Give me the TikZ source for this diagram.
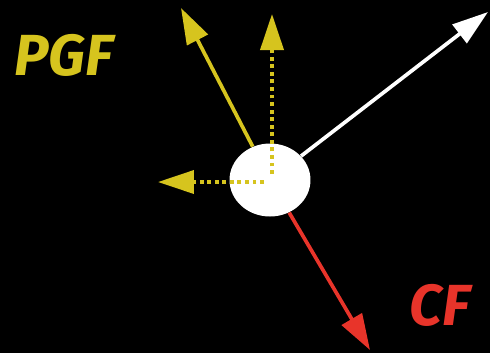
\documentclass[tikz,border=0pt]{standalone}
\usepackage{fontspec}
\setsansfont{Fira Sans}
\usetikzlibrary{arrows.meta,shapes.geometric}
\definecolor{pgfyellow}{RGB}{214,196,30}
\definecolor{cfred}{RGB}{232,52,42}

\begin{document}
\begin{tikzpicture}[x=0.02cm,y=-0.02cm,
  vec/.style={line width=2.1pt,-{Triangle[length=0.72cm,width=0.46cm]}},
  dotvec/.style={vec,dash pattern=on 2.2pt off 2.1pt,shorten <=0.16cm},
  tag/.style={font=\sffamily\bfseries\itshape\fontsize{33}{33}\selectfont,anchor=base west,inner sep=0pt}]
  \fill[black] (0,0) rectangle (490,353);
  \node[ellipse,fill=white,minimum width=1.62cm,minimum height=1.46cm,inner sep=0pt] (body) at (270,180) {};
  \coordinate (corner) at (272,182);
  \coordinate (pgftip) at (181,8);
  \coordinate (uptip) at (272,14);
  \coordinate (lefttip) at (158,182);
  \coordinate (whitetip) at (488,12);
  \coordinate (cftip) at (370,350);
  \draw[vec,pgfyellow] (body) -- (pgftip);
  \draw[dotvec,pgfyellow] (corner) -- (uptip);
  \draw[dotvec,pgfyellow] (corner) -- (lefttip);
  \draw[vec,white] (body) -- (whitetip);
  \draw[vec,cfred] (body) -- (cftip);
  \node[tag,pgfyellow] (pgf) at (14,75) {PGF};
  \node[tag,cfred] (cf) at (409,325) {CF};
\end{tikzpicture}
\end{document}
